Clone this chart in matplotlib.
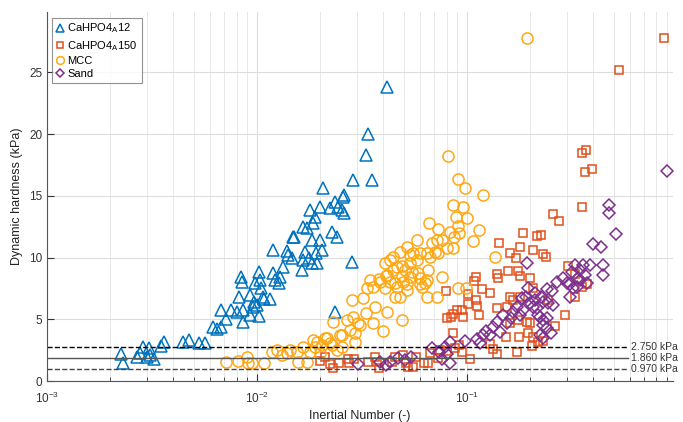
import matplotlib
matplotlib.use("Agg")
import matplotlib.pyplot as plt
from matplotlib.ticker import LogLocator, NullFormatter

plt.rcParams['font.family'] = ['Liberation Sans', 'DejaVu Sans']

# CaHPO4_A 12 (triangles)
ca12_x = [2.25e-3, 2.30e-3, 2.68e-3, 2.77e-3, 2.86e-3, 2.99e-3, 3.06e-3, 3.09e-3, 3.23e-3,
          3.49e-3, 3.61e-3, 4.44e-3, 4.74e-3, 5.30e-3, 5.65e-3, 6.17e-3, 6.45e-3, 6.74e-3,
          6.74e-3, 7.11e-3, 7.52e-3, 8.03e-3, 8.58e-3, 8.58e-3, 9.26e-3, 9.57e-3, 1.02e-2,
          8.21e-3, 9.26e-3, 9.68e-3, 1.00e-2, 1.07e-2, 8.39e-3, 8.49e-3, 9.78e-3, 1.02e-2,
          1.04e-2, 1.03e-2, 1.08e-2, 1.15e-2, 1.19e-2, 1.19e-2, 1.22e-2, 1.27e-2, 1.29e-2,
          1.33e-2, 1.39e-2, 1.41e-2, 1.47e-2, 1.48e-2, 1.64e-2, 1.66e-2, 1.69e-2, 1.73e-2,
          1.77e-2, 1.79e-2, 1.83e-2, 1.83e-2, 1.85e-2, 1.89e-2, 1.91e-2, 1.93e-2, 2.00e-2,
          2.00e-2, 2.04e-2, 2.06e-2, 2.23e-2, 2.28e-2, 2.35e-2, 2.40e-2, 2.43e-2, 2.54e-2,
          2.57e-2, 2.60e-2, 2.83e-2, 2.86e-2, 2.35e-2, 4.16e-2, 3.38e-2, 3.30e-2, 3.53e-2,
          1.66e-2, 1.50e-2, 2.60e-2]
ca12_y = [2.19, 1.46, 1.95, 2.27, 2.76, 1.95, 2.68, 2.11, 1.78,
          2.84, 3.16, 3.16, 3.33, 3.08, 3.08, 4.38, 4.22, 4.38,
          5.76, 5.03, 5.76, 5.60, 5.76, 4.79, 5.35, 6.00, 5.27,
          6.81, 6.97, 6.41, 6.16, 6.81, 8.43, 8.03, 7.95, 8.84,
          7.54, 8.19, 6.65, 6.65, 8.76, 10.62, 8.19, 7.95, 8.43,
          9.25, 10.54, 10.22, 9.98, 11.68, 9.00, 9.81, 10.46, 12.41,
          9.98, 13.87, 9.57, 11.44, 12.81, 13.30, 10.38, 9.57, 11.44,
          14.11, 10.62, 15.65, 14.03, 12.08, 14.52, 11.68, 14.11, 13.87,
          14.92, 13.63, 9.65, 16.30, 5.60, 23.84, 20.03, 18.33, 16.30,
          12.49, 11.68, 15.09]

# CaHPO4_A 150 (squares)
ca150_x = [2.00e-2, 2.11e-2, 2.23e-2, 2.30e-2, 2.46e-2, 2.71e-2, 2.74e-2, 2.90e-2, 3.38e-2,
           3.65e-2, 3.73e-2, 3.81e-2, 4.40e-2, 4.54e-2, 4.95e-2, 5.13e-2, 5.24e-2, 5.53e-2,
           5.72e-2, 6.52e-2, 6.67e-2, 7.28e-2, 8.58e-2, 8.77e-2, 0.104, 6.24e-2, 7.43e-2,
           8.03e-2, 9.16e-2, 9.46e-2,
           7.94e-2, 8.03e-2, 8.39e-2, 8.58e-2, 8.96e-2, 9.46e-2, 9.57e-2, 0.101, 0.101,
           0.108, 0.110, 0.110, 0.112, 0.114, 0.118, 0.129, 0.129, 0.133, 0.139, 0.139,
           0.139, 0.141, 0.142, 0.153, 0.155, 0.157, 0.160, 0.160, 0.160, 0.166, 0.171,
           0.173, 0.175, 0.175, 0.177, 0.179, 0.179, 0.179, 0.185, 0.193, 0.195, 0.200,
           0.200, 0.204, 0.206, 0.206, 0.206, 0.215, 0.218, 0.225, 0.230, 0.230, 0.238,
           0.243, 0.257, 0.262, 0.274, 0.293, 0.303, 0.327, 0.327, 0.353, 0.353, 0.353,
           0.369, 0.365, 0.394, 0.373, 0.529, 0.867]
ca150_y = [1.62, 1.95, 1.38, 1.05, 1.46, 1.78, 1.46, 1.78, 1.54,
           1.95, 1.54, 1.05, 1.54, 1.95, 2.11, 1.46, 1.14, 1.14,
           1.95, 1.46, 2.27, 1.87, 3.89, 2.68, 1.78, 1.46, 2.51,
           2.43, 2.92, 2.35,
           7.30, 5.11, 5.19, 5.43, 5.76, 5.76, 5.19, 7.06, 6.24,
           8.11, 8.43, 6.57, 6.08, 5.35, 7.46, 7.14, 3.00, 2.60, 2.19, 5.92,
           8.68, 8.35, 11.19, 3.57, 6.00, 8.92, 10.38, 6.81, 4.70, 6.57, 9.98,
           2.35, 4.95, 8.92, 3.57, 10.87, 8.52, 6.81, 12.00, 4.79, 3.89, 4.70,
           8.35, 2.84, 10.62, 7.54, 3.57, 11.76, 3.16, 11.84, 10.30, 3.24, 10.06,
           6.57, 13.54, 4.46, 12.98, 5.35, 9.33, 6.81, 8.68, 7.62, 14.11, 18.49,
           18.73, 16.95, 17.19, 7.87, 25.22, 27.74]

# MCC (circles)
mcc_x = [7.12e-3, 8.12e-3, 8.96e-3, 9.06e-3, 9.46e-3, 1.08e-2, 1.18e-2, 1.25e-2, 1.32e-2,
         1.39e-2, 1.44e-2, 1.55e-2, 1.57e-2, 1.66e-2, 1.73e-2, 1.79e-2, 1.89e-2, 1.93e-2,
         2.00e-2, 2.11e-2, 2.23e-2, 2.30e-2, 2.40e-2, 2.54e-2, 2.83e-2, 2.86e-2, 2.93e-2,
         3.03e-2, 1.85e-2, 2.04e-2, 2.15e-2, 2.28e-2, 2.48e-2, 2.54e-2, 2.68e-2, 2.77e-2,
         2.93e-2, 3.09e-2, 3.20e-2, 3.30e-2, 3.57e-2, 3.65e-2, 3.98e-2, 4.16e-2, 4.90e-2,
         3.34e-2, 3.57e-2, 3.45e-2, 3.81e-2, 4.07e-2, 4.16e-2, 4.30e-2, 4.44e-2, 4.54e-2,
         4.64e-2, 4.80e-2, 4.95e-2, 5.18e-2, 5.07e-2, 5.35e-2, 5.47e-2, 5.78e-2, 5.97e-2,
         6.11e-2, 6.31e-2, 6.45e-2, 6.52e-2, 6.67e-2, 7.05e-2, 7.20e-2, 5.53e-2, 4.44e-2,
         4.80e-2, 5.18e-2, 5.78e-2, 6.45e-2, 6.81e-2, 7.20e-2, 6.59e-2, 4.07e-2, 4.30e-2,
         3.85e-2, 4.54e-2, 5.18e-2, 5.97e-2, 4.11e-2, 4.90e-2, 5.35e-2, 5.84e-2, 6.45e-2,
         7.60e-2, 4.64e-2, 4.90e-2, 5.35e-2, 5.97e-2, 7.28e-2, 8.03e-2, 7.60e-2, 8.58e-2,
         8.12e-2, 9.06e-2, 9.78e-2, 0.119, 8.58e-2, 9.57e-2, 8.87e-2, 0.100, 9.06e-2,
         7.28e-2, 0.114, 8.67e-2, 9.16e-2, 0.107, 0.136, 9.06e-2, 9.89e-2, 0.193, 8.30e-2]
mcc_y = [1.54, 1.62, 1.95, 1.46, 1.46, 1.46, 2.35, 2.51, 2.11,
         2.27, 2.51, 2.35, 1.54, 2.76, 1.54, 2.35, 2.76, 3.16,
         2.27, 3.49, 3.08, 4.79, 2.51, 3.73, 6.57, 5.19, 3.16,
         4.70, 3.33, 2.92, 3.49, 2.92, 3.73, 2.76, 4.95, 4.14,
         3.89, 4.54, 6.73, 5.52, 4.70, 6.00, 4.06, 5.60, 4.95,
         7.54, 7.62, 8.19, 8.27, 7.54, 8.60, 8.03, 9.00, 6.81,
         7.62, 6.81, 8.03, 7.38, 9.00, 9.57, 8.84, 9.81, 8.35,
         7.62, 7.95, 6.81, 9.00, 10.06, 10.46, 6.81, 10.38, 10.06,
         10.46, 10.87, 11.44, 10.38, 11.19, 11.44, 12.81, 9.57, 9.81,
         8.03, 7.95, 7.87, 7.87, 8.52, 8.52, 8.43, 8.76, 8.19,
         8.43, 9.25, 9.33, 10.22, 10.38, 10.38, 10.79, 11.44, 10.79,
         18.25, 16.38, 15.65, 15.09, 14.27, 14.11, 13.30, 13.22, 12.57,
         12.33, 12.25, 11.68, 12.00, 11.35, 10.06, 7.54, 7.54, 27.74, 12.08]

# Sand (diamonds)
sand_x = [3.03e-2, 3.85e-2, 4.11e-2, 4.30e-2, 4.69e-2, 5.07e-2, 5.41e-2, 6.81e-2, 7.36e-2,
          7.85e-2, 8.30e-2, 8.30e-2, 7.60e-2, 8.03e-2, 9.78e-2, 0.112, 0.115, 0.119,
          0.124, 0.129, 0.133, 0.139, 0.144, 0.148, 0.155, 0.162, 0.166, 0.173, 0.179,
          0.183, 0.191, 0.195, 0.200, 0.211, 0.215, 0.218, 0.225, 0.230, 0.243, 0.257,
          0.230, 0.240, 0.223, 0.251, 0.230, 0.193, 0.240, 0.254, 0.268, 0.287, 0.299,
          0.316, 0.327, 0.345, 0.345, 0.365, 0.385, 0.398, 0.309, 0.320, 0.185, 0.240,
          0.223, 0.230, 0.211, 0.206, 0.357, 0.338, 0.334, 0.373, 0.434, 0.444, 0.444,
          0.474, 0.474, 0.512, 0.896, 0.309]
sand_y = [1.38, 1.54, 1.30, 1.54, 1.87, 1.70, 1.95, 2.68, 2.35,
          2.76, 3.16, 1.46, 1.78, 2.19, 3.24, 3.41, 3.08, 3.73,
          4.06, 3.73, 4.38, 4.79, 3.97, 5.35, 4.70, 5.11, 5.60, 6.00, 5.35,
          6.73, 6.81, 7.54, 6.33, 6.57, 5.92, 5.35, 6.81, 6.41, 6.33, 6.16,
          4.95, 4.30, 3.73, 3.89, 3.49, 9.57, 7.46, 7.30, 8.03, 8.35, 7.95,
          8.84, 9.41, 9.00, 8.19, 8.60, 9.41, 11.11, 7.87, 7.54, 5.76, 5.11,
          5.19, 4.54, 7.14, 6.00, 9.41, 8.35, 7.62, 7.95, 10.87, 9.41, 8.60,
          14.27, 13.63, 11.92, 17.03, 6.81]

ref_levels = [2.75, 1.86, 0.97]
ref_labels = ['2.750 kPa', '1.860 kPa', '0.970 kPa']

fig = plt.figure(figsize=(6.83, 4.22), dpi=100)
ax = fig.add_axes([0.069, 0.097, 0.916, 0.875])

ax.plot(ca12_x, ca12_y, linestyle='none', marker='^', ms=9, mfc='none',
        mec='#0072BD', mew=1.1, label='CaHPO4$_{\\mathregular{A}}$12')
ax.plot(ca150_x, ca150_y, linestyle='none', marker='s', ms=6, mfc='none',
        mec='#E0501A', mew=1.1, label='CaHPO4$_{\\mathregular{A}}$150')
ax.plot(mcc_x, mcc_y, linestyle='none', marker='o', ms=8, mfc='none',
        mec='#FFA812', mew=1.1, label='MCC')
ax.plot(sand_x, sand_y, linestyle='none', marker='D', ms=6.5, mfc='none',
        mec='#7E2F8E', mew=1.1, label='Sand')

ref_styles = [('k', '--'), ('#555555', '-'), ('#444444', '--')]
for lvl, lab, (c, ls) in zip(ref_levels, ref_labels, ref_styles):
    ax.plot([1e-3, 0.585], [lvl, lvl], color=c, linestyle=ls, linewidth=1.0)
    ax.text(0.605, lvl, lab, fontsize=7.5, color='#333333', va='center', ha='left')

ax.set_xscale('log')
ax.set_xlim(1e-3, 0.957)
ax.set_ylim(0, 29.9)
ax.set_yticks([0, 5, 10, 15, 20, 25])
ax.xaxis.set_minor_locator(LogLocator(base=10, subs=range(2, 10), numticks=20))
ax.xaxis.set_minor_formatter(NullFormatter())

ax.grid(True, which='major', color='#dddddd', linewidth=0.8)
ax.grid(True, which='minor', axis='x', color='#e8e8e8', linewidth=0.7)
ax.set_axisbelow(True)

for s in ['top', 'right']:
    ax.spines[s].set_visible(False)
for s in ['left', 'bottom']:
    ax.spines[s].set_color('#555555')
    ax.spines[s].set_linewidth(0.8)
ax.tick_params(which='both', direction='in', colors='#333333', labelsize=8.5)
ax.tick_params(which='major', length=5, width=0.8)
ax.tick_params(which='minor', length=3, width=0.6)
ax.tick_params(axis='x', which='major', pad=7)

ax.set_xlabel('Inertial Number (-)', fontsize=9, color='#222222', labelpad=3)
ax.set_ylabel('Dynamic hardness (kPa)', fontsize=9, color='#222222')

leg = ax.legend(loc='upper left', bbox_to_anchor=(0.004, 0.99), fontsize=8,
                handlelength=0.7, handletextpad=0.35, borderpad=0.35,
                labelspacing=0.3, fancybox=False, markerscale=0.7,
                borderaxespad=0.2)
leg.get_frame().set_edgecolor('#777777')
leg.get_frame().set_linewidth(0.8)

fig.savefig('out.png', dpi=100)
